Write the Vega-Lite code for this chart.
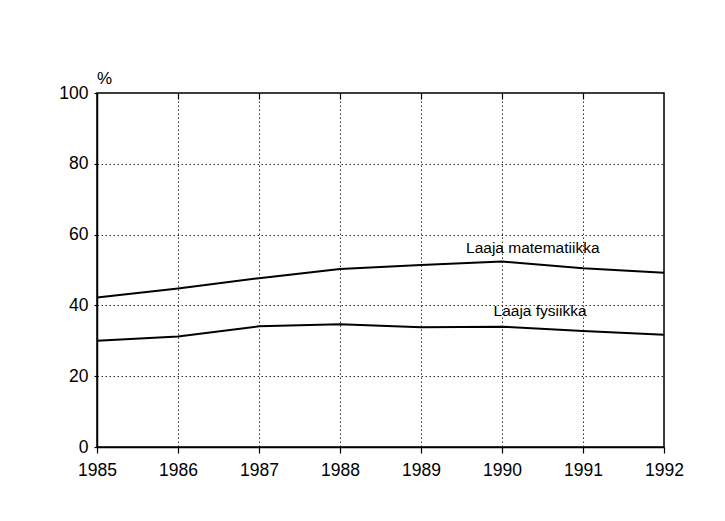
{
  "$schema": "https://vega.github.io/schema/vega-lite/v6.json",
  "width": 567,
  "height": 354,
  "autosize": {"type": "none"},
  "padding": {"left": 97, "top": 93, "right": 61, "bottom": 74},
  "background": "white",
  "config": {
    "view": {"stroke": "black", "strokeWidth": 1.5},
    "font": "Liberation Sans",
    "axis": {
      "domainColor": "black",
      "domainWidth": 1.5,
      "tickColor": "black",
      "tickWidth": 1.2,
      "gridColor": "#333",
      "gridDash": [1.5, 2.5],
      "gridWidth": 1,
      "labelColor": "black",
      "labelFont": "Liberation Sans",
      "titleFont": "Liberation Sans",
      "titleColor": "black",
      "titleFontWeight": "normal"
    }
  },
  "datasets": {
    "series": [
      {"year": 1985, "value": 42.2, "series": "Laaja matematiikka"},
      {"year": 1986, "value": 44.8, "series": "Laaja matematiikka"},
      {"year": 1987, "value": 47.7, "series": "Laaja matematiikka"},
      {"year": 1988, "value": 50.3, "series": "Laaja matematiikka"},
      {"year": 1989, "value": 51.4, "series": "Laaja matematiikka"},
      {"year": 1990, "value": 52.4, "series": "Laaja matematiikka"},
      {"year": 1991, "value": 50.5, "series": "Laaja matematiikka"},
      {"year": 1992, "value": 49.2, "series": "Laaja matematiikka"},
      {"year": 1985, "value": 30.0, "series": "Laaja fysiikka"},
      {"year": 1986, "value": 31.2, "series": "Laaja fysiikka"},
      {"year": 1987, "value": 34.1, "series": "Laaja fysiikka"},
      {"year": 1988, "value": 34.7, "series": "Laaja fysiikka"},
      {"year": 1989, "value": 33.8, "series": "Laaja fysiikka"},
      {"year": 1990, "value": 34.0, "series": "Laaja fysiikka"},
      {"year": 1991, "value": 32.8, "series": "Laaja fysiikka"},
      {"year": 1992, "value": 31.7, "series": "Laaja fysiikka"}
    ],
    "labels": [
      {"year": 1990.38, "value": 56.2, "label": "Laaja matematiikka"},
      {"year": 1990.47, "value": 38.4, "label": "Laaja fysiikka"}
    ]
  },
  "layer": [
    {
      "data": {"name": "series"},
      "mark": {"type": "line", "color": "black", "strokeWidth": 2},
      "encoding": {
        "x": {
          "field": "year",
          "type": "quantitative",
          "scale": {"domain": [1985, 1992], "nice": false, "zero": false},
          "axis": {
            "title": null,
            "values": [1985, 1986, 1987, 1988, 1989, 1990, 1991, 1992],
            "format": "d",
            "labelFontSize": 17.5,
            "labelPadding": 8,
            "tickSize": 6,
            "grid": true,
            "labelFlush": false
          }
        },
        "y": {
          "field": "value",
          "type": "quantitative",
          "scale": {"domain": [0, 100], "nice": false},
          "axis": {
            "title": "%",
            "titleAngle": 0,
            "titleFontSize": 17,
            "titleAlign": "center",
            "titleBaseline": "middle",
            "titleX": 7,
            "titleY": -15,
            "values": [0, 20, 40, 60, 80, 100],
            "labelFontSize": 17.5,
            "labelPadding": 6,
            "tickSize": 3,
            "grid": true
          }
        },
        "detail": {"field": "series", "type": "nominal"}
      }
    },
    {
      "data": {"name": "labels"},
      "mark": {"type": "text", "fontSize": 15.5, "color": "black", "align": "center", "baseline": "middle", "font": "Liberation Sans"},
      "encoding": {
        "x": {
          "field": "year",
          "type": "quantitative",
          "axis": {
            "title": null,
            "values": [1986, 1987, 1988, 1989, 1990, 1991],
            "labels": false,
            "domain": false,
            "grid": false,
            "tickSize": -6
          }
        },
        "y": {"field": "value", "type": "quantitative"},
        "text": {"field": "label"}
      }
    }
  ],
  "resolve": {"axis": {"x": "independent"}}
}
